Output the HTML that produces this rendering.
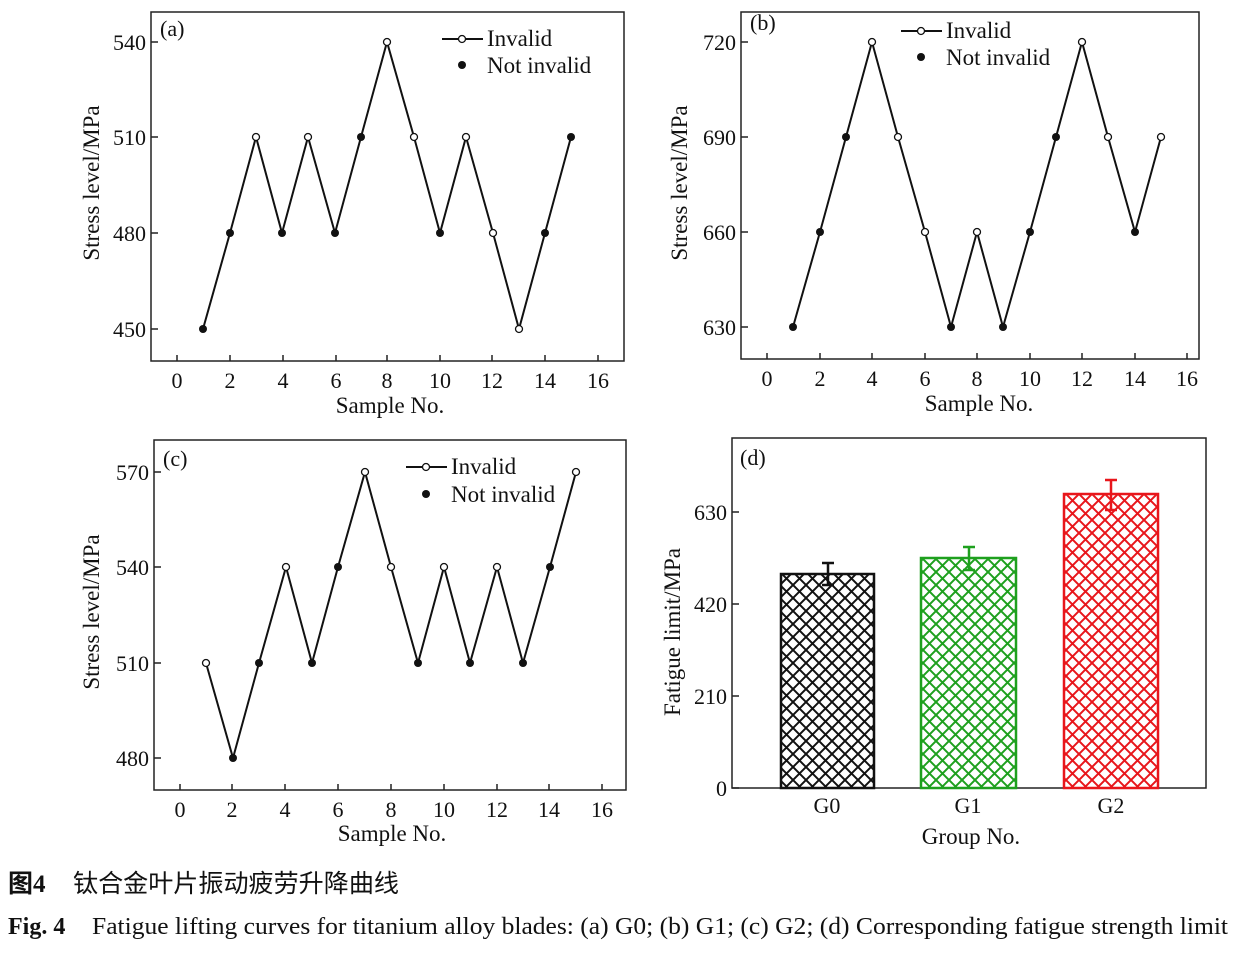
<!DOCTYPE html>
<html><head><meta charset="utf-8"><style>
body{margin:0;background:#fff}
svg text{font-family:"Liberation Serif","Noto Serif CJK SC",serif;fill:#111}
</style></head><body>
<svg width="1233" height="949" viewBox="0 0 1233 949" xmlns="http://www.w3.org/2000/svg">
<defs>
<pattern id="hk" width="13" height="13" patternUnits="userSpaceOnUse"><path d="M0 0L13 13M13 0L0 13" stroke="#111" stroke-width="2"/></pattern>
<pattern id="hg" width="13" height="13" patternUnits="userSpaceOnUse"><path d="M0 0L13 13M13 0L0 13" stroke="#1ea01e" stroke-width="2"/></pattern>
<pattern id="hr" width="13" height="13" patternUnits="userSpaceOnUse"><path d="M0 0L13 13M13 0L0 13" stroke="#e8161b" stroke-width="2"/></pattern>
</defs>
<g fill="none" stroke="#222" stroke-width="1.5">
<rect x="151" y="12" width="473" height="349"/>
<rect x="741" y="12" width="458" height="347"/>
<rect x="154" y="440" width="472" height="350"/>
<rect x="732" y="438" width="474" height="350"/>
</g>
<g stroke="#222" stroke-width="1.5">
<path d="M151 42h7M151 137h7M151 233h7M151 329h7"/>
<path d="M177 361v-6M230 361v-6M283 361v-6M336 361v-6M387 361v-6M440 361v-6M492 361v-6M545 361v-6M598 361v-6"/>
<path d="M741 42h7M741 137h7M741 232h7M741 327h7"/>
<path d="M767 359v-6M820 359v-6M872 359v-6M925 359v-6M977 359v-6M1030 359v-6M1082 359v-6M1135 359v-6M1187 359v-6"/>
<path d="M154 472h7M154 567h7M154 663h7M154 758h7"/>
<path d="M180 790v-6M232 790v-6M285 790v-6M338 790v-6M391 790v-6M444 790v-6M497 790v-6M549 790v-6M602 790v-6"/>
<path d="M732 512h7M732 604h7M732 696h7M732 788h7"/>
</g>
<g font-size="22">
<g text-anchor="end"><text x="146" y="50">540</text><text x="146" y="145">510</text><text x="146" y="241">480</text><text x="146" y="337">450</text>
<text x="736" y="50">720</text><text x="736" y="145">690</text><text x="736" y="240">660</text><text x="736" y="335">630</text>
<text x="149" y="480">570</text><text x="149" y="575">540</text><text x="149" y="671">510</text><text x="149" y="766">480</text>
<text x="727" y="520">630</text><text x="727" y="612">420</text><text x="727" y="704">210</text><text x="727" y="796">0</text></g>
<g text-anchor="middle">
<text x="177" y="388">0</text><text x="230" y="388">2</text><text x="283" y="388">4</text><text x="336" y="388">6</text><text x="387" y="388">8</text><text x="440" y="388">10</text><text x="492" y="388">12</text><text x="545" y="388">14</text><text x="598" y="388">16</text>
<text x="767" y="386">0</text><text x="820" y="386">2</text><text x="872" y="386">4</text><text x="925" y="386">6</text><text x="977" y="386">8</text><text x="1030" y="386">10</text><text x="1082" y="386">12</text><text x="1135" y="386">14</text><text x="1187" y="386">16</text>
<text x="180" y="817">0</text><text x="232" y="817">2</text><text x="285" y="817">4</text><text x="338" y="817">6</text><text x="391" y="817">8</text><text x="444" y="817">10</text><text x="497" y="817">12</text><text x="549" y="817">14</text><text x="602" y="817">16</text>
<text x="827" y="813">G0</text><text x="968" y="813">G1</text><text x="1111" y="813">G2</text>
</g>
</g>
<g font-size="23" text-anchor="middle">
<text x="390" y="413">Sample No.</text>
<text x="979" y="411">Sample No.</text>
<text x="392" y="841">Sample No.</text>
<text x="971" y="844">Group No.</text>
<text transform="translate(99 183) rotate(-90)">Stress level/MPa</text>
<text transform="translate(687 183) rotate(-90)">Stress level/MPa</text>
<text transform="translate(99 612) rotate(-90)">Stress level/MPa</text>
<text transform="translate(680 632) rotate(-90)">Fatigue limit/MPa</text>
</g>
<g font-size="22">
<text x="160" y="36">(a)</text><text x="750" y="30">(b)</text><text x="163" y="466">(c)</text><text x="740" y="465">(d)</text>
</g>
<g font-size="23">
<text x="487" y="46">Invalid</text><text x="487" y="73">Not invalid</text>
<text x="946" y="38">Invalid</text><text x="946" y="65">Not invalid</text>
<text x="451" y="474">Invalid</text><text x="451" y="502">Not invalid</text>
</g>
<text x="8" y="892" font-size="25" font-family="'Noto Sans CJK SC',sans-serif" font-weight="bold" style="font-family:'Liberation Serif','Noto Sans CJK SC',sans-serif">图4</text>
<text x="73" y="892" font-size="25" style="font-family:'Liberation Serif','Noto Sans CJK SC',sans-serif" textLength="326" lengthAdjust="spacingAndGlyphs">钛合金叶片振动疲劳升降曲线</text>
<text x="8" y="934" font-size="24" font-weight="bold">Fig. 4</text>
<text x="92" y="934" font-size="24" textLength="1136" lengthAdjust="spacingAndGlyphs">Fatigue lifting curves for titanium alloy blades: (a) G0; (b) G1; (c) G2; (d) Corresponding fatigue strength limit</text>
<g stroke="#111" stroke-width="2"><path d="M442 39h41M901 31h41M406 467h41"/></g>
<g fill="#fff" stroke="#111" stroke-width="1.3"><circle cx="462" cy="39" r="3.5"/><circle cx="921" cy="31" r="3.5"/><circle cx="426" cy="467" r="3.5"/></g>
<g fill="#111"><circle cx="462" cy="65" r="4"/><circle cx="921" cy="57" r="4"/><circle cx="426" cy="494" r="4"/></g>
<g fill="none" stroke="#111" stroke-width="2">
<polyline points="203,329 230,233 256,137 282,233 308,137 335,233 361,137 387,42 414,137 440,233 466,137 493,233 519,329 545,233 571,137"/>
<polyline points="793,327 820,232 846,137 872,42 898,137 925,232 951,327 977,232 1003,327 1030,232 1056,137 1082,42 1108,137 1135,232 1161,137"/>
<polyline points="206,663 233,758 259,663 286,567 312,663 338,567 365,472 391,567 418,663 444,567 470,663 497,567 523,663 550,567 576,472"/>
</g>
<g fill="#111">
<circle cx="203" cy="329" r="4"/><circle cx="230" cy="233" r="4"/><circle cx="282" cy="233" r="4"/><circle cx="335" cy="233" r="4"/><circle cx="361" cy="137" r="4"/><circle cx="440" cy="233" r="4"/><circle cx="545" cy="233" r="4"/><circle cx="571" cy="137" r="4"/>
<circle cx="793" cy="327" r="4"/><circle cx="820" cy="232" r="4"/><circle cx="846" cy="137" r="4"/><circle cx="951" cy="327" r="4"/><circle cx="1003" cy="327" r="4"/><circle cx="1030" cy="232" r="4"/><circle cx="1056" cy="137" r="4"/><circle cx="1135" cy="232" r="4"/>
<circle cx="233" cy="758" r="4"/><circle cx="259" cy="663" r="4"/><circle cx="312" cy="663" r="4"/><circle cx="338" cy="567" r="4"/><circle cx="418" cy="663" r="4"/><circle cx="470" cy="663" r="4"/><circle cx="523" cy="663" r="4"/><circle cx="550" cy="567" r="4"/>
</g>
<g fill="#fff" stroke="#111" stroke-width="1.3">
<circle cx="256" cy="137" r="3.5"/><circle cx="308" cy="137" r="3.5"/><circle cx="387" cy="42" r="3.5"/><circle cx="414" cy="137" r="3.5"/><circle cx="466" cy="137" r="3.5"/><circle cx="493" cy="233" r="3.5"/><circle cx="519" cy="329" r="3.5"/>
<circle cx="872" cy="42" r="3.5"/><circle cx="898" cy="137" r="3.5"/><circle cx="925" cy="232" r="3.5"/><circle cx="977" cy="232" r="3.5"/><circle cx="1082" cy="42" r="3.5"/><circle cx="1108" cy="137" r="3.5"/><circle cx="1161" cy="137" r="3.5"/>
<circle cx="206" cy="663" r="3.5"/><circle cx="286" cy="567" r="3.5"/><circle cx="365" cy="472" r="3.5"/><circle cx="391" cy="567" r="3.5"/><circle cx="444" cy="567" r="3.5"/><circle cx="497" cy="567" r="3.5"/><circle cx="576" cy="472" r="3.5"/>
</g>
<rect x="781" y="574" width="93" height="214" fill="url(#hk)" stroke="#111" stroke-width="2.5"/>
<rect x="921" y="558" width="95" height="230" fill="url(#hg)" stroke="#1ea01e" stroke-width="2.5"/>
<rect x="1064" y="494" width="94" height="294" fill="url(#hr)" stroke="#e8161b" stroke-width="2.5"/>
<g stroke-width="2.5" fill="none">
<path d="M828 563v22M822 563h12M822 585h12" stroke="#111"/>
<path d="M969 547v23M963 547h12M963 570h12" stroke="#1ea01e"/>
<path d="M1111 480v30M1105 480h12M1105 510h12" stroke="#e8161b"/>
</g>
</svg>
</body></html>
